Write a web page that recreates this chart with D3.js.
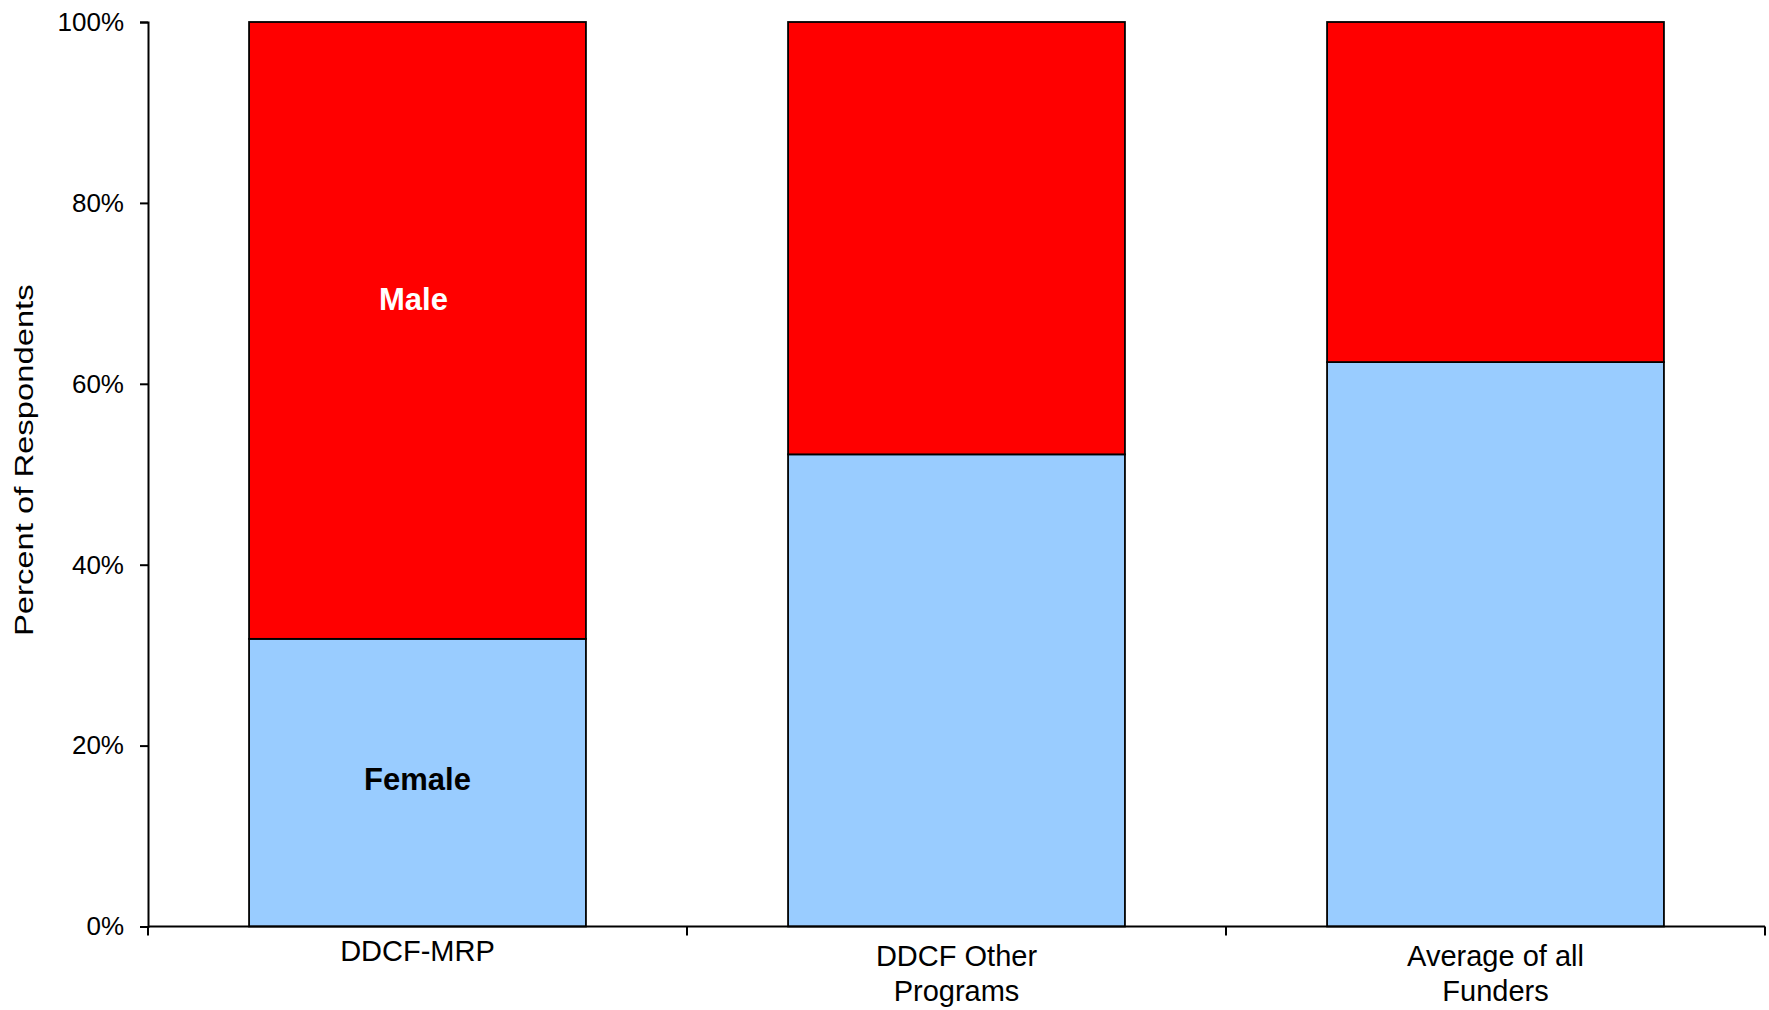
<!DOCTYPE html>
<html>
<head>
<meta charset="utf-8">
<script src="https://cdn.jsdelivr.net/npm/d3@7"></script>
<style>
  html, body { margin: 0; padding: 0; background: #fff; }
  svg { display: block; font-family: "Liberation Sans", Arial, sans-serif; }
</style>
</head>
<body>
<svg id="chart" width="1769" height="1010"></svg>
<script>
// ---- Data ----
const categories = [["DDCF-MRP"], ["DDCF Other", "Programs"], ["Average of all", "Funders"]];
const categoryKeys = ["DDCF-MRP", "DDCF Other Programs", "Average of all Funders"];
const female = [0.318, 0.522, 0.624];
const male = [0.682, 0.478, 0.376];
const seriesNames = ["Female", "Male"];
const seriesColors = ["#99CCFF", "#FF0000"];
const yTicks = [0, 0.2, 0.4, 0.6, 0.8, 1.0];
const yTickLabels = ["0%", "20%", "40%", "60%", "80%", "100%"];
const yTitle = "Percent of Respondents";
// in-bar annotations (on first bar): text, y value position
const annotations = [
  { text: "Male", value: 0.694, color: "#ffffff", dx: -4 },
  { text: "Female", value: 0.163, color: "#000000", dx: 0 }
];

// ---- Layout ----
const svg = d3.select("#chart");
const margin = { left: 148, right: 4, top: 22, bottom: 83.5 };
const W = 1769, H = 1010;
const x0 = margin.left, x1 = W - margin.right;
const yTop = margin.top, yBot = H - margin.bottom;

const x = d3.scaleBand().domain(categoryKeys).range([x0, x1])
  .paddingInner(0.375).paddingOuter(0.1875);
const y = d3.scaleLinear().domain([0, 1]).range([yBot, yTop]);

const rows = categoryKeys.map((k, i) => ({ key: k, Female: female[i], Male: male[i] }));
const stacked = d3.stack().keys(seriesNames)(rows);

// ---- Bars ----
const g = svg.append("g");
stacked.forEach((layer, si) => {
  g.selectAll(null).data(layer).enter().append("rect")
    .attr("x", d => x(d.data.key))
    .attr("width", x.bandwidth())
    .attr("y", d => y(d[1]))
    .attr("height", d => y(d[0]) - y(d[1]))
    .attr("fill", seriesColors[si])
    .attr("stroke", "#000")
    .attr("stroke-width", 1.8);
});

// ---- Y axis ----
const yAxis = d3.axisLeft(y).tickValues(yTicks)
  .tickFormat((d, i) => yTickLabels[i]).tickSizeOuter(0).tickSize(8).tickPadding(16);
const yg = svg.append("g").attr("transform", `translate(${x0},0)`).call(yAxis);
yg.select(".domain").attr("stroke", "#000").attr("stroke-width", 2);
yg.selectAll(".tick line").attr("stroke", "#000").attr("stroke-width", 2);
yg.selectAll(".tick text").attr("font-size", 26).attr("fill", "#000")
  .attr("font-family", "'Liberation Sans', Arial, sans-serif");

// ---- X axis (ticks between categories) ----
svg.append("line").attr("x1", x0).attr("x2", x1).attr("y1", yBot).attr("y2", yBot)
  .attr("stroke", "#000").attr("stroke-width", 2);
const step = x.step();
const boundaries = d3.range(categoryKeys.length + 1).map(i => x0 + i * step);
svg.selectAll(null).data(boundaries).enter().append("line")
  .attr("x1", d => d).attr("x2", d => d)
  .attr("y1", yBot).attr("y2", yBot + 9)
  .attr("stroke", "#000").attr("stroke-width", 2);

// Category labels
categoryKeys.forEach((k, i) => {
  const single = categories[i].length === 1;
  const t = svg.append("text")
    .attr("x", x(k) + x.bandwidth() / 2)
    .attr("y", yBot + (single ? 34 : 39))
    .attr("text-anchor", "middle")
    .attr("font-size", 29)
    .attr("fill", "#000");
  categories[i].forEach((line, li) => {
    t.append("tspan").attr("x", x(k) + x.bandwidth() / 2)
      .attr("dy", li === 0 ? 0 : 35).text(line);
  });
});

// Y title (stretched along its baseline like the original)
const title = svg.append("text")
  .attr("text-anchor", "middle")
  .attr("font-size", 26)
  .attr("fill", "#000")
  .text(yTitle);
const natural = title.node().getComputedTextLength();
const stretch = 352 / natural;
title.attr("transform", `translate(33,${(yTop + yBot) / 2 - 14}) rotate(-90) scale(${stretch},1)`);

// Annotations
annotations.forEach(a => {
  svg.append("text")
    .attr("x", x(categoryKeys[0]) + x.bandwidth() / 2 + a.dx)
    .attr("y", y(a.value))
    .attr("dy", "0.35em")
    .attr("text-anchor", "middle")
    .attr("font-size", 31)
    .attr("font-weight", "bold")
    .attr("fill", a.color)
    .text(a.text);
});
</script>
</body>
</html>
